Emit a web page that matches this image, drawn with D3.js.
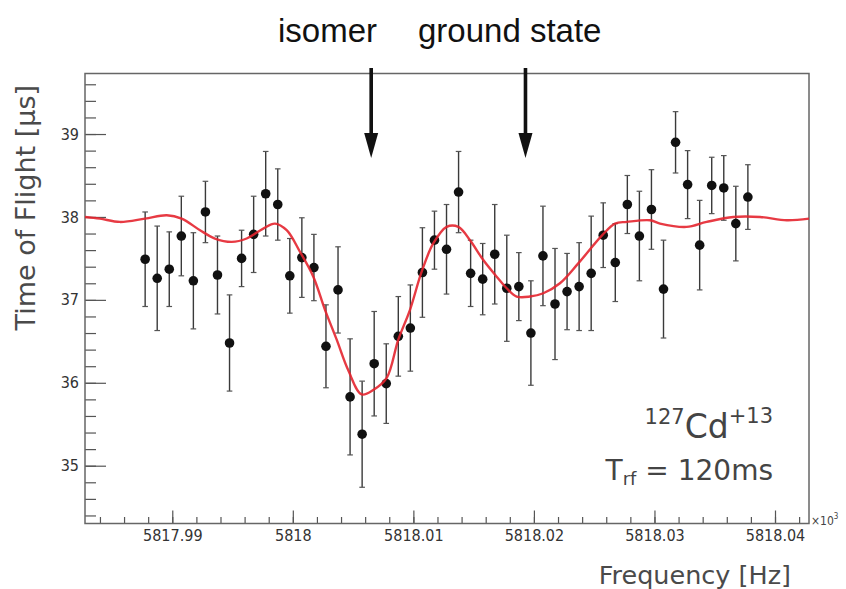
<!DOCTYPE html>
<html>
<head>
<meta charset="utf-8">
<script src="https://cdn.jsdelivr.net/npm/d3@7"></script>
<style>
  body { margin: 0; background: #fff; }
  svg { display: block; }
</style>
</head>
<body>
<div id="container"></div>
<script>
// scan points: rf frequency [Hz], mean time of flight [us] and its error
var freq = [
  5817.98775, 5817.98875, 5817.98975, 5817.99075, 5817.99175, 5817.99275, 5817.99375, 5817.99475, 5817.99575, 5817.99675,
  5817.99775, 5817.99875, 5817.99975, 5818.00075, 5818.00175, 5818.00275, 5818.00375, 5818.00475, 5818.00575, 5818.00675,
  5818.00775, 5818.00875, 5818.00975, 5818.01075, 5818.01175, 5818.01275, 5818.01375, 5818.01475, 5818.01575, 5818.01675,
  5818.01775, 5818.01875, 5818.01975, 5818.02075, 5818.02175, 5818.02275, 5818.02375, 5818.02475, 5818.02575, 5818.02675,
  5818.02775, 5818.02875, 5818.02975, 5818.03075, 5818.03175, 5818.03275, 5818.03375, 5818.03475, 5818.03575, 5818.03675,
  5818.03775
]
var tof = [
  37.49, 37.26, 37.37, 37.77, 37.23, 38.06, 37.30, 36.48, 37.50, 37.79,
  38.28, 38.15, 37.29, 37.51, 37.39, 36.44, 37.12, 35.83, 35.38, 36.23,
  35.99, 36.56, 36.66, 37.33, 37.72, 37.61, 38.30, 37.32, 37.25, 37.55,
  37.14, 37.16, 36.60, 37.53, 36.95, 37.10, 37.16, 37.32, 37.78, 37.45,
  38.15, 37.77, 38.09, 37.13, 38.90, 38.39, 37.66, 38.38, 38.35, 37.92,
  38.24
]
var tofErr = [
  0.57, 0.63, 0.45, 0.48, 0.58, 0.37, 0.47, 0.58, 0.34, 0.46,
  0.51, 0.43, 0.45, 0.48, 0.40, 0.50, 0.52, 0.70, 0.64, 0.63,
  0.48, 0.48, 0.52, 0.54, 0.35, 0.54, 0.49, 0.40, 0.43, 0.60,
  0.64, 0.41, 0.63, 0.60, 0.67, 0.46, 0.53, 0.69, 0.39, 0.47,
  0.35, 0.54, 0.48, 0.59, 0.37, 0.41, 0.54, 0.34, 0.39, 0.45,
  0.39
]

// fitted two-resonance curve
var fitFreq = [
  5817.98276, 5817.98400, 5817.98566, 5817.98774, 5817.98954, 5817.99078, 5817.99230, 5817.99354,
  5817.99493, 5817.99617, 5817.99755, 5817.99852, 5817.99949, 5818.00059, 5818.00170, 5818.00267,
  5818.00364, 5818.00460, 5818.00571, 5818.00673, 5818.00779, 5818.00875, 5818.00972, 5818.01069,
  5818.01165, 5818.01276, 5818.01373, 5818.01470, 5818.01580, 5818.01691, 5818.01774, 5818.01857,
  5818.01967, 5818.02078, 5818.02216, 5818.02368, 5818.02567, 5818.02673, 5818.02770, 5818.02963,
  5818.03046, 5818.03267, 5818.03433, 5818.03654, 5818.03876, 5818.04097, 5818.04282
]
var fitTof = [
  38.00, 37.98, 37.94, 37.98, 38.02, 37.98, 37.84, 37.74,
  37.70, 37.74, 37.86, 37.92, 37.84, 37.58, 37.28, 36.88,
  36.52, 36.15, 35.86, 35.92, 36.06, 36.52, 36.88, 37.34,
  37.68, 37.88, 37.88, 37.72, 37.48, 37.28, 37.14, 37.04,
  37.04, 37.08, 37.20, 37.44, 37.78, 37.92, 37.94, 37.96,
  37.92, 37.88, 37.94, 38.00, 38.00, 37.96, 37.98
]

var arrowFreq = [5818.0065, 5818.0193]
var arrowLabels = ['isomer', 'ground state']

var xTicks = [5817.99, 5818, 5818.01, 5818.02, 5818.03, 5818.04]
var xTickLabels = ['5817.99', '5818', '5818.01', '5818.02', '5818.03', '5818.04']
var yTicks = [35, 36, 37, 38, 39]

var _default = {
  width: 846,
  height: 589,
  left: 85,
  right: 809,
  top: 73.5,
  bottom: 523.5,
  r: 4.8
}

function tofPlot(options) {
  options = options || _default
  this.opt = options
  this.points = freq.map(function (f, i) {
    return { f: f, t: tof[i], e: tofErr[i] }
  })
  this.fit = fitFreq.map(function (f, i) { return { f: f, t: fitTof[i] } })
}

tofPlot.prototype.initLayout = function () {
  var o = this.opt
  this.svg = d3.select('#container')
    .append('svg')
    .attr('width', o.width)
    .attr('height', o.height)
    .style('font-family', '"DejaVu Sans", sans-serif')

  this.x = d3.scaleLinear().domain([5817.98276, 5818.04282]).range([o.left, o.right])
  this.y = d3.scaleLinear().domain([34.303, 39.730]).range([o.bottom, o.top])
  return this
}

tofPlot.prototype.renderAxes = function () {
  var o = this.opt, x = this.x, y = this.y

  // minor ticks first, majors on top
  var xMinor = d3.range(5817.984, 5818.0425, 0.002)
  var yMinor = d3.range(34.4, 39.65, 0.2)

  var gx = this.svg.append('g').attr('transform', 'translate(0,' + o.bottom + ')')
  gx.append('g').call(d3.axisBottom(x).tickValues(xMinor).tickSize(-6.5).tickFormat(''))
  gx.append('g').call(d3.axisBottom(x).tickValues(xTicks).tickSize(-13).tickPadding(6)
    .tickFormat(function (d, i) { return xTickLabels[i] }))

  var gy = this.svg.append('g').attr('transform', 'translate(' + o.left + ',0)')
  gy.append('g').call(d3.axisLeft(y).tickValues(yMinor).tickSize(-11).tickFormat(''))
  gy.append('g').call(d3.axisLeft(y).tickValues(yTicks).tickSize(-21).tickPadding(6)
    .tickFormat(d3.format('d')))

  this.svg.selectAll('.domain').remove()
  this.svg.selectAll('.tick line').attr('stroke', '#555').attr('stroke-width', 1.2)
  this.svg.selectAll('.tick text')
    .attr('fill', '#333')
    .style('font-family', '"DejaVu Sans Condensed", "DejaVu Sans", sans-serif')
    .style('font-stretch', 'condensed')
    .style('font-size', '16px')

  // frame
  this.svg.append('rect')
    .attr('x', o.left).attr('y', o.top)
    .attr('width', o.right - o.left).attr('height', o.bottom - o.top)
    .attr('fill', 'none').attr('stroke', '#666').attr('stroke-width', 1.5)

  // exponent next to the x axis
  var ex = this.svg.append('text')
    .attr('x', o.right + 2).attr('y', o.bottom + 1)
    .attr('fill', '#444')
    .style('font-family', '"DejaVu Sans Condensed", "DejaVu Sans", sans-serif')
    .style('font-size', '12px')
  ex.append('tspan').text('\u00d710')
  ex.append('tspan').attr('dy', -6).style('font-size', '8px').text('3')

  // axis titles
  this.svg.append('text')
    .attr('x', 791).attr('y', 584)
    .attr('text-anchor', 'end')
    .attr('fill', '#4a4a4a')
    .style('font-size', '25.5px')
    .text('Frequency [Hz]')

  this.svg.append('text')
    .attr('transform', 'translate(35,85) rotate(-90)')
    .attr('text-anchor', 'end')
    .attr('fill', '#4a4a4a')
    .style('font-size', '27px')
    .text('Time of Flight [\u03bcs]')
  return this
}

tofPlot.prototype.renderGraph = function () {
  var o = this.opt, x = this.x, y = this.y

  var g = this.svg.append('g').attr('class', 'points')
  var pt = g.selectAll('.pt')
    .data(this.points)
    .enter().append('g')
    .attr('class', 'pt')

  pt.append('line')
    .attr('x1', function (d) { return x(d.f) }).attr('x2', function (d) { return x(d.f) })
    .attr('y1', function (d) { return y(d.t - d.e) }).attr('y2', function (d) { return y(d.t + d.e) })
    .attr('stroke', '#3a3a3a').attr('stroke-width', 1.4)
  // end caps
  ;[-1, 1].forEach(function (s) {
    pt.append('line')
      .attr('x1', function (d) { return x(d.f) - 2.8 }).attr('x2', function (d) { return x(d.f) + 2.8 })
      .attr('y1', function (d) { return y(d.t + s * d.e) }).attr('y2', function (d) { return y(d.t + s * d.e) })
      .attr('stroke', '#555').attr('stroke-width', 1.2)
  })
  pt.append('circle')
    .attr('cx', function (d) { return x(d.f) })
    .attr('cy', function (d) { return y(d.t) })
    .attr('r', o.r)
    .attr('fill', '#111')

  // fit curve drawn above the points
  this.svg.append('path')
    .datum(this.fit)
    .attr('d', d3.line()
      .curve(d3.curveCatmullRom.alpha(0.5))
      .x(function (d) { return x(d.f) })
      .y(function (d) { return y(d.t) }))
    .attr('fill', 'none')
    .attr('stroke', '#e4252f')
    .attr('stroke-width', 2.4)
    .attr('stroke-linejoin', 'round')
    .attr('stroke-opacity', 0.9)
  return this
}

tofPlot.prototype.renderNotes = function () {
  var x = this.x, svg = this.svg

  // resonance markers
  arrowFreq.forEach(function (f) {
    var ax = x(f)
    svg.append('line')
      .attr('x1', ax).attr('x2', ax).attr('y1', 68).attr('y2', 140)
      .attr('stroke', '#111').attr('stroke-width', 3.6)
    svg.append('path')
      .attr('d', 'M' + (ax - 7) + ',133L' + (ax + 7) + ',133L' + ax + ',158Z')
      .attr('fill', '#111')
  })

  svg.selectAll('.arrow-label')
    .data(arrowLabels)
    .enter().append('text')
    .attr('class', 'arrow-label')
    .attr('x', function (d, i) { return i === 0 ? 278 : 418 })
    .attr('y', 42)
    .attr('fill', '#111')
    .style('font-family', '"Liberation Sans", Arial, sans-serif')
    .style('font-size', '33px')
    .text(function (d) { return d })

  // ion and excitation time
  var t1 = svg.append('text')
    .attr('x', 773).attr('y', 438)
    .attr('text-anchor', 'end')
    .attr('fill', '#444')
  t1.append('tspan').style('font-size', '21px').attr('dy', -14).text('127')
  t1.append('tspan').style('font-size', '33px').attr('dy', 14).text('Cd')
  t1.append('tspan').style('font-size', '21px').attr('dy', -15).text('+13')

  var t2 = svg.append('text')
    .attr('x', 773).attr('y', 480)
    .attr('text-anchor', 'end')
    .attr('fill', '#444')
  t2.append('tspan').style('font-size', '28px').text('T')
  t2.append('tspan').style('font-size', '18px').attr('dy', 5).text('rf')
  t2.append('tspan').style('font-size', '28px').attr('dy', -5).text(' = 120ms')
  return this
}

tofPlot.prototype.init = function () {
  this.initLayout()
    .renderAxes()
    .renderGraph()
    .renderNotes()
}

var plot = new tofPlot(_default)
plot.init()
</script>
</body>
</html>
